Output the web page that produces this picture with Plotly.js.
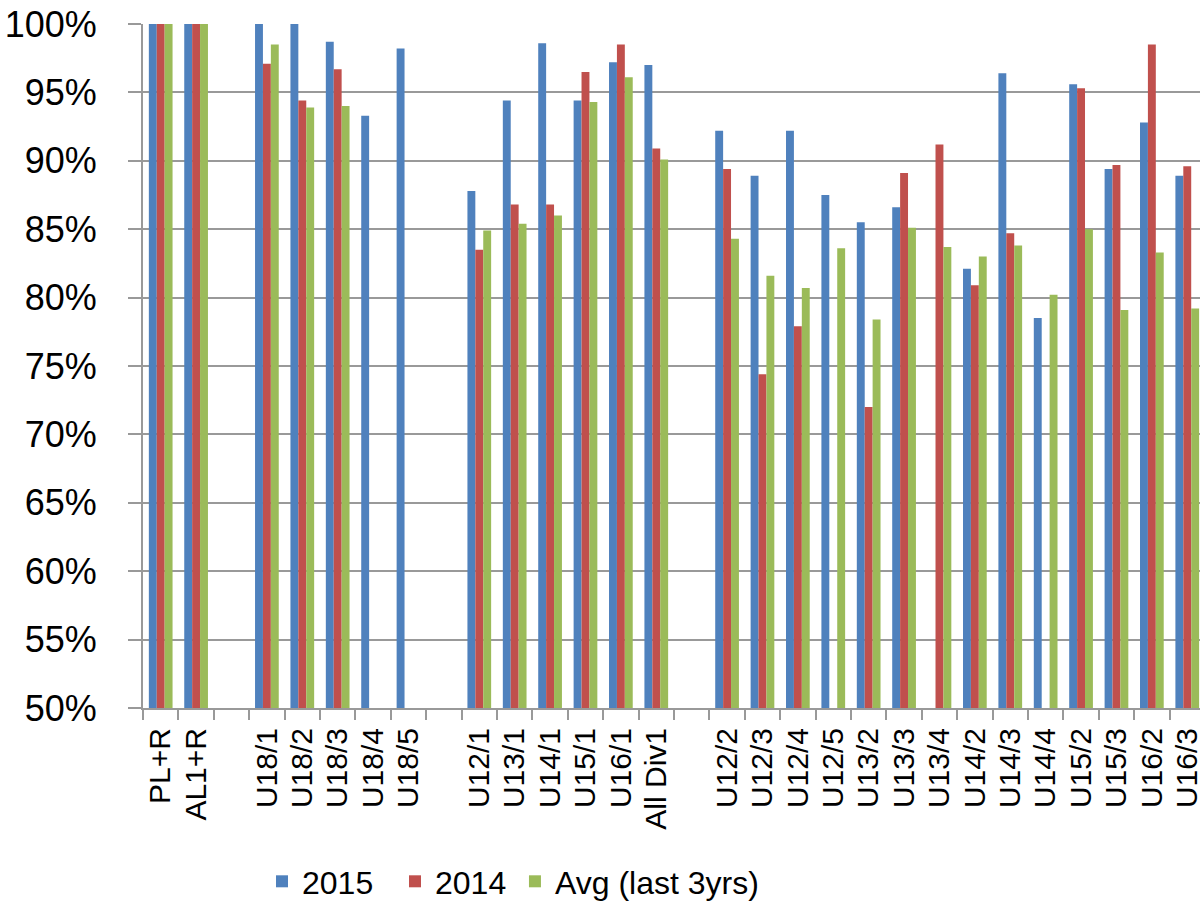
<!DOCTYPE html>
<html><head><meta charset="utf-8">
<script src="https://cdn.plot.ly/plotly-3.0.1.min.js"></script>
<style>html,body{margin:0;padding:0;background:#fff;overflow:hidden}#chart{width:1200px;height:909px}</style>
</head><body><div id="chart"></div>
<script>
const categories = ['PL+R','AL1+R',' ','U18/1','U18/2','U18/3','U18/4','U18/5','  ','U12/1','U13/1','U14/1','U15/1','U16/1','All Div1','   ','U12/2','U12/3','U12/4','U12/5','U13/2','U13/3','U13/4','U14/2','U14/3','U14/4','U15/2','U15/3','U16/2','U16/3'];
const values2015 = [100,100,null,100,100,98.7,93.3,98.2,null,87.8,94.4,98.6,94.4,97.2,97.0,null,92.2,88.9,92.2,87.5,85.5,86.6,null,82.1,96.4,78.5,95.6,89.4,92.8,88.9];
const values2014 = [100,100,null,97.1,94.4,96.7,null,null,null,83.5,86.8,86.8,96.5,98.5,90.9,null,89.4,74.4,77.9,null,72.0,89.1,91.2,80.9,84.7,null,95.3,89.7,98.5,89.6];
const valuesAvg = [100,100,null,98.5,93.9,94.0,null,null,null,84.9,85.4,86.0,94.3,96.1,90.1,null,84.3,81.6,80.7,83.6,78.4,85.1,83.7,83.0,83.8,80.2,85.0,79.1,83.3,79.2];
const seriesNames = ['2015','2014','Avg (last 3yrs)'];
const seriesColors = ['#4F81BD','#C0504D','#9BBB59'];
const yTicks = [50,55,60,65,70,75,80,85,90,95,100];
const yTickLabels = ['50%','55%','60%','65%','70%','75%','80%','85%','90%','95%','100%'];

const FONT = '"Liberation Sans", Arial, sans-serif';
const legendIds = ['legend','legend2','legend3'];
const legendX = [0.1126, 0.2384, 0.3519];

const seriesValues = [values2015, values2014, valuesAvg];
const traces = seriesValues.map((vals, i) => ({
  type: 'bar',
  x: categories,
  y: vals,
  name: seriesNames[i],
  legend: legendIds[i],
  marker: {color: seriesColors[i], line: {width: 0}},
  hoverinfo: 'skip'
}));

const legendBase = (x) => ({
  orientation: 'h', x: x, xanchor: 'left', y: -0.254, yanchor: 'middle',
  font: {family: FONT, size: 32, color: '#000'}, bgcolor: 'rgba(0,0,0,0)'
});

const layout = {
  width: 1200, height: 909,
  margin: {l: 143, r: 0, t: 24, b: 200},
  paper_bgcolor: '#ffffff', plot_bgcolor: '#ffffff',
  barmode: 'group', bargap: 0.33, bargroupgap: 0,
  showlegend: true,
  legend: legendBase(legendX[0]),
  legend2: legendBase(legendX[1]),
  legend3: legendBase(legendX[2]),
  xaxis: {
    type: 'category', categoryorder: 'array', categoryarray: categories,
    tickmode: 'array', tickvals: categories, ticktext: categories,
    range: [-0.5, 29.36], tickson: 'boundaries',
    showgrid: false, showline: true, linecolor: '#999999', linewidth: 2,
    ticks: 'outside', ticklen: 10, tickcolor: '#999999', tickwidth: 2,
    tickangle: -90, tickfont: {family: FONT, size: 30, color: '#000'},
    ticklabelstandoff: 6, automargin: false, fixedrange: true
  },
  yaxis: {
    range: [50, 100], tickmode: 'array', tickvals: yTicks, ticktext: yTickLabels,
    showgrid: true, gridcolor: '#999999', gridwidth: 2,
    showline: true, linecolor: '#999999', linewidth: 2, zeroline: false,
    ticks: 'outside', ticklen: 13, tickcolor: '#999999', tickwidth: 2,
    tickfont: {family: FONT, size: 36, color: '#000'},
    ticklabelstandoff: 24, automargin: false, fixedrange: true
  }
};
Plotly.newPlot('chart', traces, layout, {staticPlot: true, displayModeBar: false});
</script></body></html>
